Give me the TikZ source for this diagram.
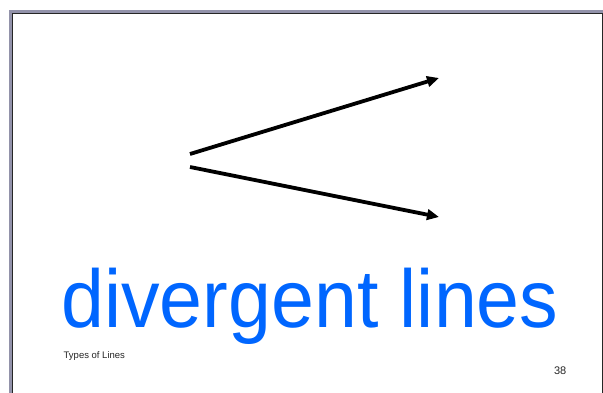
\documentclass[tikz,border=0pt]{standalone}
\usepackage{fontspec}
\setmainfont{Liberation Sans}
\usetikzlibrary{arrows.meta}
\definecolor{framegrey}{RGB}{146,146,170}
\definecolor{titleblue}{RGB}{0,102,255}
\tikzset{
  divarrow/.style={line width=3.8pt, -{Triangle[length=12pt,width=10.5pt]}},
  smalltext/.style={inner sep=0pt, font=\fontsize{9.5}{11}\selectfont, text=black!85},
}
\begin{document}
\begin{tikzpicture}[x=1pt,y=-1pt]
\useasboundingbox (0,0) rectangle (603,393);
\fill[white] (0,0) rectangle (603,393);
\fill[framegrey] (9,10) rectangle (603,393);
\fill[white] (12.5,13.5) rectangle (602,393);
\draw[black!85, line width=1pt] (12.5,393) -- (12.5,13.5) -- (602,13.5) -- (602,393);
\coordinate (s1) at (190,154);
\coordinate (e1) at (439,78);
\coordinate (s2) at (190,167);
\coordinate (e2) at (439,217);
\draw[divarrow] (s1) -- (e1);
\draw[divarrow] (s2) -- (e2);
\node[anchor=base, inner sep=0pt, text=titleblue] (title) at (310,327)
  {\scalebox{0.94}[1]{\fontsize{82}{90}\selectfont divergent lines}};
\node[smalltext, anchor=base west] (foot) at (63.5,358) {Types of Lines};
\node[smalltext, anchor=base east, font=\fontsize{11}{13}\selectfont] (num) at (566.5,374) {38};
\end{tikzpicture}
\end{document}
